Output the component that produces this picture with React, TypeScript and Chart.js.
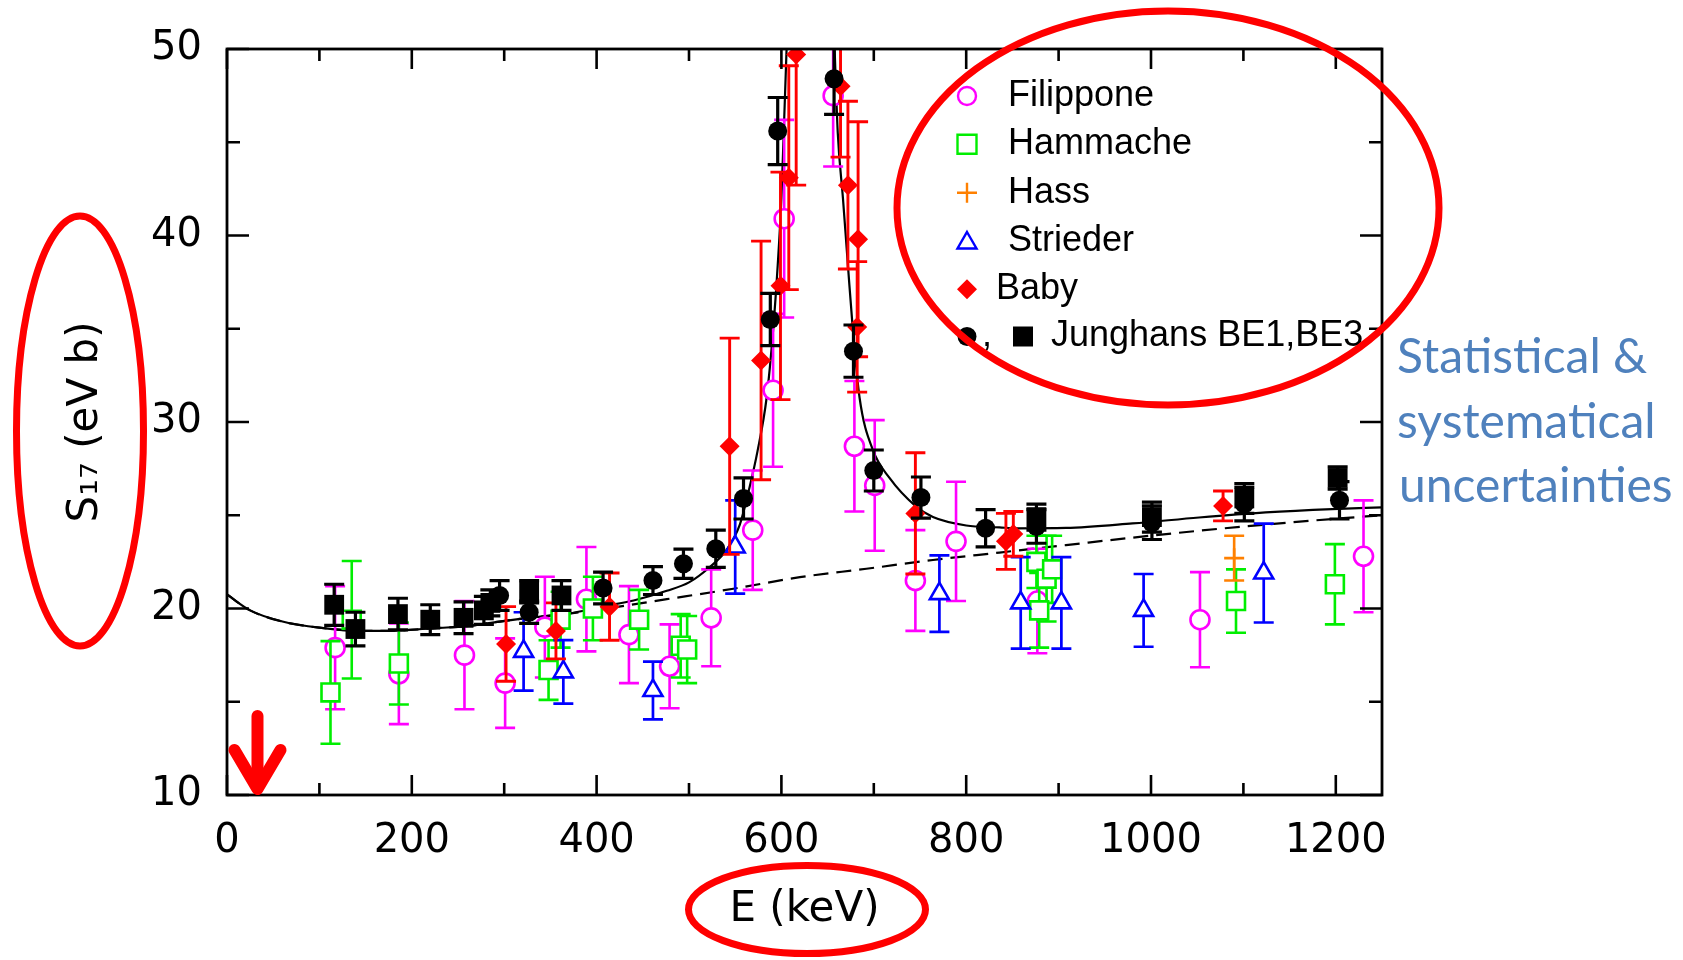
import React, { useEffect, useRef } from "react";
import { Chart, registerables } from "chart.js";

Chart.register(...registerables);

// ---------------- data ----------------
const filipponeE = [117, 186, 257, 301, 344, 389, 435, 479, 524, 569, 591, 603, 656, 679, 701, 745, 789, 877, 1053, 1230];
const filipponeS = [17.9, 16.5, 17.5, 16.0, 19.0, 20.5, 18.6, 16.9, 19.5, 24.2, 31.7, 40.9, 47.5, 28.7, 26.6, 21.5, 23.6, 20.4, 19.4, 22.8];
const filipponeErr = [3.3, 2.7, 2.9, 2.4, 2.7, 2.8, 2.6, 2.25, 2.6, 3.2, 4.1, 5.3, 3.8, 3.5, 3.5, 2.7, 3.2, 2.8, 2.55, 3.0];

const hammacheE = [112, 135, 186, 348, 361, 396, 446, 491, 498, 876, 879, 887, 893, 1092, 1199];
const hammacheS = [15.5, 19.4, 17.05, 16.7, 19.4, 20.0, 19.4, 18.0, 17.8, 22.5, 19.9, 21.6, 22.1, 20.4, 21.3];
const hammacheErr = [2.75, 3.15, 2.2, 1.6, 1.5, 1.7, 1.6, 1.7, 1.8, 1.4, 2.0, 2.3, 1.8, 1.7, 2.15];

const hassE = [1090];
const hassS = [22.7];
const hassErr = [1.2];

const striederE = [321, 364, 461, 550, 771, 859, 903, 992, 1122];
const striederS = [17.7, 16.6, 15.6, 23.3, 20.8, 20.3, 20.3, 19.9, 21.9];
const striederErr = [2.1, 1.7, 1.55, 2.5, 2.05, 2.45, 2.45, 1.95, 2.65];

const babyE = [302, 356, 414, 544, 578, 599, 608, 616, 664, 672, 683, 682, 745, 843, 851, 1078];
const babyS = [18.1, 18.8, 20.1, 28.7, 33.3, 37.3, 43.1, 49.7, 48.0, 42.7, 39.8, 35.1, 25.1, 23.6, 24.0, 25.5];
const babyErr = [2.0, 1.5, 1.8, 5.8, 6.4, 6.1, 6.0, 7.0, 3.8, 4.5, 6.3, 3.5, 3.25, 1.5, 1.2, 0.8];

const be1E = [295, 327, 407, 461, 494, 529, 559, 588, 596, 657, 678, 700, 751, 821, 876, 1001, 1101, 1204];
const be1S = [20.7, 19.8, 21.1, 21.5, 22.4, 23.2, 25.9, 35.5, 45.6, 48.4, 33.8, 27.4, 25.95, 24.3, 24.4, 24.6, 25.6, 25.8];
const be1Err = [0.8, 0.6, 0.85, 0.75, 0.78, 1.0, 1.1, 1.4, 1.8, 1.9, 1.4, 1.1, 1.1, 1.0, 0.9, 0.9, 0.9, 1.0];

const be3E = [116, 139, 185, 220, 256, 278, 285, 327, 362, 876, 1001, 1101, 1202];
const be3S = [20.2, 18.9, 19.7, 19.4, 19.5, 19.9, 20.3, 20.9, 20.7, 24.9, 24.9, 25.9, 27.0];
const be3Err = [1.1, 0.9, 0.85, 0.8, 0.85, 0.75, 0.7, 0.6, 0.8, 0.7, 0.8, 0.8, 0.6];

// total fit (solid) curve samples
const fitE = [0, 25, 60, 100, 150, 190, 225, 260, 295, 330, 370, 405, 440, 476, 500, 522, 540, 555, 566, 574, 584, 591, 596, 600, 602.5, 605, 608, 612, 650, 654, 657.6, 661, 666.6, 672, 677.4, 684.6, 699, 717, 745, 764, 800, 836, 854, 908, 980, 1052, 1124, 1196, 1250];
const fitS = [20.75, 19.9, 19.3, 18.97, 18.8, 18.83, 18.95, 19.05, 19.3, 19.52, 19.73, 20.1, 20.43, 20.95, 21.4, 22.2, 23.1, 24.5, 26.6, 28.4, 31.3, 34.9, 38.4, 42.0, 45.5, 49.1, 54, 65, 65, 55, 50, 45.5, 42.0, 38.4, 34.9, 31.3, 28.5, 27.0, 25.5, 24.9, 24.45, 24.35, 24.3, 24.32, 24.56, 24.88, 25.15, 25.33, 25.42];

// non-resonant (dashed) curve samples
const nonResE = [0, 25, 60, 100, 150, 190, 225, 260, 295, 330, 370, 404, 476, 548, 620, 692, 764, 836, 908, 980, 1052, 1124, 1196, 1250];
const nonResS = [20.75, 19.9, 19.3, 18.97, 18.8, 18.83, 18.95, 19.05, 19.3, 19.52, 19.73, 19.95, 20.5, 21.06, 21.68, 22.13, 22.6, 23.0, 23.4, 23.8, 24.17, 24.5, 24.8, 25.0];

const xTicks = { min: 0, max: 1250, step: 100, labelEvery: 200 };
const yTicks = { min: 10, max: 50, step: 5, labelEvery: 10 };

const legendLabels = ["Filippone", "Hammache", "Hass", "Strieder", "Baby", "Junghans BE1,BE3"];
const noteLines = ["Statistical &", "systematical", "uncertainties"];
const arrowEnergy = 33;

// ---------------- helpers ----------------
const pts = (xs: number[], ys: number[]) => xs.map((x, i) => ({ x, y: ys[i] }));

const MAGENTA = "#FF00FF";
const GREEN = "#00EE00";
const ORANGE = "#FF8000";
const BLUE = "#0000FF";
const RED = "#FF0000";
const BLACK = "#000000";

function drawMarker(ctx: CanvasRenderingContext2D, kind: string, x: number, y: number, r: number, color: string, filled: boolean) {
  ctx.save();
  ctx.beginPath();
  if (kind === "circle") {
    ctx.arc(x, y, r, 0, Math.PI * 2);
  } else if (kind === "square") {
    ctx.rect(x - r, y - r, 2 * r, 2 * r);
  } else if (kind === "triangle") {
    const h = r * 1.732;
    ctx.moveTo(x, y - r);
    ctx.lineTo(x + h / 2, y + r * 0.5);
    ctx.lineTo(x - h / 2, y + r * 0.5);
    ctx.closePath();
  } else if (kind === "diamond") {
    ctx.moveTo(x, y - r);
    ctx.lineTo(x + r, y);
    ctx.lineTo(x, y + r);
    ctx.lineTo(x - r, y);
    ctx.closePath();
  } else if (kind === "cross") {
    ctx.moveTo(x - r, y);
    ctx.lineTo(x + r, y);
    ctx.moveTo(x, y - r);
    ctx.lineTo(x, y + r);
  }
  if (filled) {
    ctx.fillStyle = color;
    ctx.fill();
  } else {
    ctx.fillStyle = "#fff";
    if (kind !== "cross") ctx.fill();
    ctx.strokeStyle = color;
    ctx.lineWidth = 2.4;
    ctx.stroke();
  }
  ctx.restore();
}

const errorBarPlugin = {
  id: "errorBars",
  beforeDatasetDraw(chart: any, args: any) {
    const ds = chart.data.datasets[args.index];
    if (!ds.errorBars) return;
    const { ctx, chartArea } = chart;
    const xs = chart.scales.x;
    const ys = chart.scales.y;
    ctx.save();
    ctx.beginPath();
    ctx.rect(chartArea.left, chartArea.top, chartArea.right - chartArea.left, chartArea.bottom - chartArea.top);
    ctx.clip();
    ctx.strokeStyle = ds.errorColor;
    ctx.lineWidth = ds.errorWidth;
    ds.data.forEach((p: any, i: number) => {
      const e = ds.errorBars[i];
      const px = xs.getPixelForValue(p.x);
      const top = ys.getPixelForValue(p.y + e);
      const bot = ys.getPixelForValue(p.y - e);
      ctx.beginPath();
      ctx.moveTo(px, top);
      ctx.lineTo(px, bot);
      ctx.moveTo(px - 10, top);
      ctx.lineTo(px + 10, top);
      ctx.moveTo(px - 10, bot);
      ctx.lineTo(px + 10, bot);
      ctx.stroke();
    });
    ctx.restore();
  },
};

const framePlugin = {
  id: "frameTicks",
  afterDatasetsDraw(chart: any) {
    const { ctx, chartArea } = chart;
    const { left, right, top, bottom } = chartArea;
    const xs = chart.scales.x;
    const ys = chart.scales.y;
    ctx.save();
    ctx.strokeStyle = "#000";
    ctx.lineWidth = 2.6;
    ctx.beginPath();
    for (let v = xTicks.min; v <= xTicks.max; v += xTicks.step) {
      const px = xs.getPixelForValue(v);
      const len = v % xTicks.labelEvery === 0 ? 20 : 12;
      ctx.moveTo(px, bottom);
      ctx.lineTo(px, bottom - len);
      ctx.moveTo(px, top);
      ctx.lineTo(px, top + len);
    }
    for (let v = yTicks.min; v <= yTicks.max; v += yTicks.step) {
      const py = ys.getPixelForValue(v);
      const len = v % yTicks.labelEvery === 0 ? 22 : 13;
      ctx.moveTo(left, py);
      ctx.lineTo(left + len, py);
      ctx.moveTo(right, py);
      ctx.lineTo(right - len, py);
    }
    ctx.stroke();
    ctx.lineWidth = 2.8;
    ctx.strokeRect(left, top, right - left, bottom - top);
    ctx.restore();
  },
};

const annotationPlugin = {
  id: "annotations",
  afterDraw(chart: any) {
    const { ctx, chartArea } = chart;
    const xs = chart.scales.x;
    ctx.save();

    // legend
    const rowsY = [96, 144.3, 192.7, 241, 289.3, 336.5];
    const mx = 967;
    drawMarker(ctx, "circle", mx, rowsY[0], 9, MAGENTA, false);
    drawMarker(ctx, "square", mx, rowsY[1], 9.5, GREEN, false);
    drawMarker(ctx, "cross", mx, rowsY[2], 10, ORANGE, false);
    drawMarker(ctx, "triangle", mx, rowsY[3] + 2, 11, BLUE, false);
    drawMarker(ctx, "diamond", mx, rowsY[4], 10, RED, true);
    drawMarker(ctx, "circle", mx, rowsY[5], 9.5, BLACK, true);
    drawMarker(ctx, "square", 1023, rowsY[5], 10, BLACK, true);
    ctx.fillStyle = "#000";
    ctx.font = "36px 'Liberation Sans', Arial, sans-serif";
    ctx.textBaseline = "middle";
    ctx.textAlign = "left";
    ctx.fillText(legendLabels[0], 1008, rowsY[0]);
    ctx.fillText(legendLabels[1], 1008, rowsY[1]);
    ctx.fillText(legendLabels[2], 1008, rowsY[2]);
    ctx.fillText(legendLabels[3], 1008, rowsY[3]);
    ctx.fillText(legendLabels[4], 996, rowsY[4]);
    ctx.fillText(",", 982, rowsY[5]);
    ctx.fillText(legendLabels[5], 1051, rowsY[5]);

    // red ellipses
    ctx.strokeStyle = RED;
    ctx.lineWidth = 7;
    ctx.beginPath();
    ctx.ellipse(1168, 208, 271, 197, 0, 0, Math.PI * 2);
    ctx.stroke();
    ctx.beginPath();
    ctx.ellipse(80, 431, 63.5, 215, 0, 0, Math.PI * 2);
    ctx.stroke();
    ctx.beginPath();
    ctx.ellipse(807, 909.5, 118.5, 44, 0, 0, Math.PI * 2);
    ctx.stroke();

    // red arrow
    const ax = xs.getPixelForValue(arrowEnergy);
    const tip = chartArea.bottom - 6;
    ctx.lineWidth = 12;
    ctx.lineCap = "round";
    ctx.lineJoin = "round";
    ctx.beginPath();
    ctx.moveTo(ax, 716);
    ctx.lineTo(ax, tip - 4);
    ctx.stroke();
    ctx.beginPath();
    ctx.moveTo(ax - 23, 750);
    ctx.lineTo(ax, tip);
    ctx.lineTo(ax + 23, 750);
    ctx.stroke();

    // blue note
    ctx.fillStyle = "#4F81BD";
    ctx.font = "48px Lato, 'Open Sans', sans-serif";
    ctx.textBaseline = "alphabetic";
    ctx.fillText(noteLines[0], 1397, 373);
    ctx.fillText(noteLines[1], 1397, 438);
    ctx.fillText(noteLines[2], 1399, 502);
    ctx.restore();
  },
};

export default function App() {
  const canvasRef = useRef<HTMLCanvasElement | null>(null);

  useEffect(() => {
    const canvas = canvasRef.current;
    if (!canvas) return;
    const tickFont = { family: "'DejaVu Sans', sans-serif", size: 40 };
    const titleFont = { family: "'DejaVu Sans', sans-serif", size: 42 };
    const chart = new Chart(canvas, {
      type: "scatter",
      data: {
        datasets: [
          {
            label: "Junghans BE3",
            data: pts(be3E, be3S),
            pointStyle: "rect",
            pointRadius: 14,
            backgroundColor: BLACK,
            borderColor: BLACK,
            borderWidth: 0,
            order: 0,
            errorBars: be3Err,
            errorColor: BLACK,
            errorWidth: 3.2,
          } as any,
          {
            label: "Junghans BE1",
            data: pts(be1E, be1S),
            pointStyle: "circle",
            pointRadius: 9.5,
            backgroundColor: BLACK,
            borderColor: BLACK,
            borderWidth: 0,
            order: 1,
            errorBars: be1Err,
            errorColor: BLACK,
            errorWidth: 3.2,
          } as any,
          {
            label: "Baby",
            data: pts(babyE, babyS),
            pointStyle: "rectRot",
            pointRadius: 10,
            backgroundColor: RED,
            borderColor: RED,
            borderWidth: 0,
            order: 2,
            errorBars: babyErr,
            errorColor: RED,
            errorWidth: 2.9,
          } as any,
          {
            label: "Strieder",
            data: pts(striederE, striederS),
            pointStyle: "triangle",
            pointRadius: 11,
            backgroundColor: "#fff",
            borderColor: BLUE,
            borderWidth: 2.6,
            order: 3,
            errorBars: striederErr,
            errorColor: BLUE,
            errorWidth: 2.7,
          } as any,
          {
            label: "Hass",
            data: pts(hassE, hassS),
            pointStyle: "cross",
            pointRadius: 10,
            backgroundColor: ORANGE,
            borderColor: ORANGE,
            borderWidth: 2.6,
            order: 4,
            errorBars: hassErr,
            errorColor: ORANGE,
            errorWidth: 2.6,
          } as any,
          {
            label: "Hammache",
            data: pts(hammacheE, hammacheS),
            pointStyle: "rect",
            pointRadius: 12.7,
            backgroundColor: "#fff",
            borderColor: GREEN,
            borderWidth: 2.6,
            order: 5,
            errorBars: hammacheErr,
            errorColor: GREEN,
            errorWidth: 2.6,
          } as any,
          {
            label: "Filippone",
            data: pts(filipponeE, filipponeS),
            pointStyle: "circle",
            pointRadius: 9.5,
            backgroundColor: "#fff",
            borderColor: MAGENTA,
            borderWidth: 2.6,
            order: 6,
            errorBars: filipponeErr,
            errorColor: MAGENTA,
            errorWidth: 2.6,
          } as any,
          {
            label: "Fit",
            data: pts(fitE, fitS),
            showLine: true,
            pointRadius: 0,
            borderColor: BLACK,
            borderWidth: 2.2,
            cubicInterpolationMode: "monotone",
            order: 7,
          } as any,
          {
            label: "Non-resonant",
            data: pts(nonResE, nonResS),
            showLine: true,
            pointRadius: 0,
            borderColor: BLACK,
            borderWidth: 2.2,
            borderDash: [15, 8],
            cubicInterpolationMode: "monotone",
            order: 8,
          } as any,
        ],
      },
      options: {
        responsive: false,
        animation: false,
        events: [],
        layout: { padding: { left: 0, top: 47, right: 301, bottom: 0 } },
        plugins: { legend: { display: false }, tooltip: { enabled: false } },
        scales: {
          x: {
            type: "linear",
            position: "bottom",
            min: xTicks.min,
            max: xTicks.max,
            afterFit: (s: any) => {
              s.height = 165;
            },
            grid: { display: false, drawTicks: false },
            border: { display: false },
            ticks: {
              stepSize: xTicks.step,
              includeBounds: false,
              autoSkip: false,
              maxRotation: 0,
              padding: 23,
              color: "#000",
              font: tickFont,
              callback: (v: any) => (Number(v) % xTicks.labelEvery === 0 ? String(v) : ""),
            },
            title: { display: true, text: "E (keV)", color: "#000", font: titleFont, padding: { top: 0, bottom: 25 } },
          },
          y: {
            type: "linear",
            min: yTicks.min,
            max: yTicks.max,
            afterFit: (s: any) => {
              s.width = 227;
            },
            grid: { display: false, drawTicks: false },
            border: { display: false },
            ticks: {
              stepSize: yTicks.step,
              includeBounds: false,
              autoSkip: false,
              padding: 25,
              color: "#000",
              font: tickFont,
              callback: (v: any) => (Number(v) % yTicks.labelEvery === 0 ? String(v) : ""),
            },
            title: { display: true, text: "S\u2081\u2087 (eV b)", color: "#000", font: titleFont, padding: { top: 61, bottom: 0 } },
          },
        },
      } as any,
      plugins: [errorBarPlugin, framePlugin, annotationPlugin],
    });
    return () => chart.destroy();
  }, []);

  return (
    <div style={{ position: "fixed", left: 0, top: 0, width: 1683, height: 960, background: "#fff" }}>
      <canvas ref={canvasRef} width={1683} height={960} style={{ display: "block" }} />
    </div>
  );
}
